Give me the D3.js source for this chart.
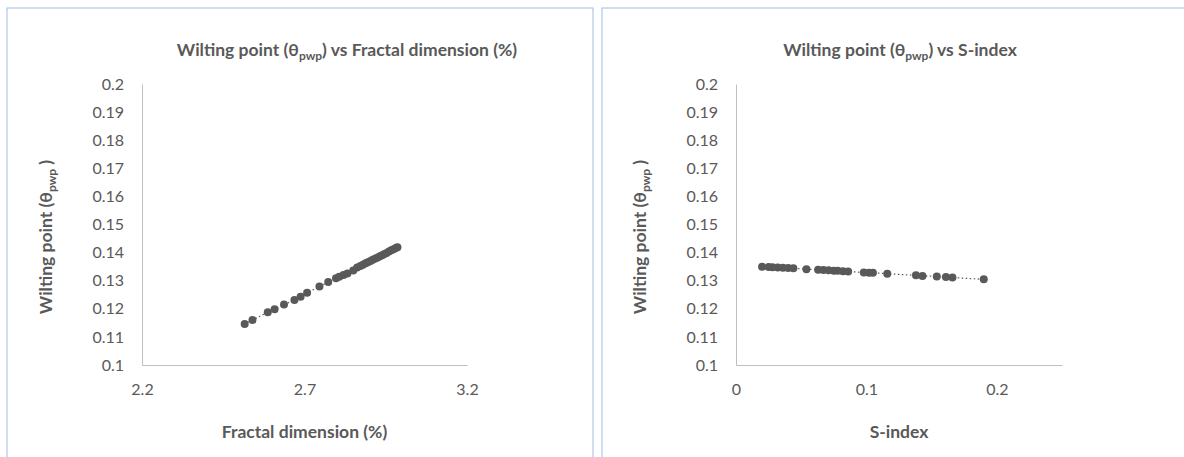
<!DOCTYPE html>
<html><head><meta charset="utf-8">
<script src="https://cdn.jsdelivr.net/npm/d3@7"></script>
<style>
body{margin:0;background:#fff;}
svg{display:block;}
text{font-family:Lato,"Open Sans",sans-serif;fill:#595959;}
</style></head>
<body><svg id="c" width="1184" height="457"></svg>
<script>
// ---- data ----
const fractalX = [2.516,2.540,2.587,2.608,2.637,2.669,2.688,2.708,2.746,2.773,2.797,2.807,2.820,2.832,2.850,
  2.862,2.872,2.880,2.888,2.895,2.903,2.910,2.918,2.925,2.932,2.939,2.946,2.953,2.960,2.967,2.974,2.981,2.986];
const fractalY = [0.1146,0.1160,0.1188,0.1198,0.1215,0.1231,0.1243,0.1257,0.1279,0.1295,0.1309,0.1314,0.1320,0.1326,0.1336,
  0.1347,0.1352,0.1357,0.1362,0.1366,0.1370,0.1375,0.1379,0.1383,0.1387,0.1391,0.1395,0.1399,0.1404,0.1408,0.1412,0.1416,0.1419];
const sIndexX = [0.020,0.025,0.028,0.032,0.036,0.040,0.044,0.054,0.063,0.067,0.071,0.075,0.078,0.082,0.086,
  0.098,0.102,0.105,0.116,0.138,0.143,0.154,0.161,0.166,0.190];
const sIndexY = [0.1350,0.1349,0.1348,0.1347,0.1346,0.1345,0.1344,0.1341,0.1339,0.1338,0.1337,0.1335,0.1335,0.1334,0.1333,
  0.1329,0.1328,0.1328,0.1325,0.1319,0.1317,0.1315,0.1313,0.1311,0.1305];
const yTicks = [0.1,0.11,0.12,0.13,0.14,0.15,0.16,0.17,0.18,0.19,0.2];
const yTickLabels = ["0.1","0.11","0.12","0.13","0.14","0.15","0.16","0.17","0.18","0.19","0.2"];
const fractalTicks = [2.2,2.7,3.2];
const fractalTickLabels = ["2.2","2.7","3.2"];
const sIndexTicks = [0,0.1,0.2];
const sIndexTickLabels = ["0","0.1","0.2"];

const svg = d3.select("#c");

function panel(cfg){
  const g = svg.append("g");
  g.append("rect").attr("x",cfg.px).attr("y",8).attr("width",cfg.pw).attr("height",470)
    .attr("fill","#fff").attr("stroke","#9dbbe3").attr("stroke-width",1);
  const x = d3.scaleLinear().domain(cfg.xDomain).range([cfg.x0,cfg.x1]);
  const y = d3.scaleLinear().domain([0.1,0.2]).range([365,84]);

  const ya = g.append("g").attr("transform",`translate(${cfg.x0},0)`)
    .call(d3.axisLeft(y).tickValues(yTicks).tickFormat((d,i)=>yTickLabels[i]).tickSize(0).tickPadding(18));
  ya.select(".domain").attr("stroke","#bfbfbf");
  ya.selectAll("text").attr("font-size",16).attr("font-family","Lato").attr("fill","#595959");

  const xa = g.append("g").attr("transform","translate(0,365)")
    .call(d3.axisBottom(x).tickValues(cfg.xTicks).tickFormat((d,i)=>cfg.xTickLabels[i]).tickSize(0).tickPadding(19));
  xa.select(".domain").attr("stroke","#bfbfbf");
  xa.selectAll("text").attr("font-size",16).attr("font-family","Lato").attr("fill","#595959");

  const pts = cfg.xs.map((v,i)=>[v,cfg.ys[i]]);
  g.append("path").datum(pts)
    .attr("d",d3.line().x(d=>x(d[0])).y(d=>y(d[1])))
    .attr("fill","none").attr("stroke","#595959").attr("stroke-width",1.2).attr("stroke-dasharray","1.5,2.5");
  g.selectAll("circle").data(pts).join("circle")
    .attr("cx",d=>x(d[0])).attr("cy",d=>y(d[1])).attr("r",4).attr("fill","#595959");

  const t = g.append("text").attr("x",cfg.titleX).attr("y",56).attr("text-anchor","middle")
    .attr("font-size",17.5).attr("font-weight","bold");
  t.append("tspan").text("Wilting point (θ");
  t.append("tspan").text("pwp").attr("font-size",12).attr("dy",4);
  t.append("tspan").text(")" + cfg.titleRest).attr("dy",-4);

  g.append("text").attr("x",(cfg.x0+cfg.x1)/2).attr("y",438).attr("text-anchor","middle")
    .attr("font-size",17.5).attr("font-weight","bold").text(cfg.xTitle);

  const yl = g.append("text").attr("transform",`translate(${cfg.x0-90},237) rotate(-90)`)
    .attr("text-anchor","middle").attr("font-size",17.5).attr("font-weight","bold");
  yl.append("tspan").text("Wilting point (θ");
  yl.append("tspan").text("pwp").attr("font-size",12).attr("dy",4);
  yl.append("tspan").text(" )").attr("dy",-4);
}

panel({px:7,pw:586,x0:142,x1:467,xDomain:[2.2,3.2],xTicks:fractalTicks,xTickLabels:fractalTickLabels,
  xs:fractalX,ys:fractalY,titleX:347,titleRest:" vs Fractal dimension (%)",xTitle:"Fractal dimension (%)"});
panel({px:602,pw:600,x0:736,x1:1062,xDomain:[0,0.25],xTicks:sIndexTicks,xTickLabels:sIndexTickLabels,
  xs:sIndexX,ys:sIndexY,titleX:900,titleRest:" vs S-index",xTitle:"S-index"});
</script></body></html>
